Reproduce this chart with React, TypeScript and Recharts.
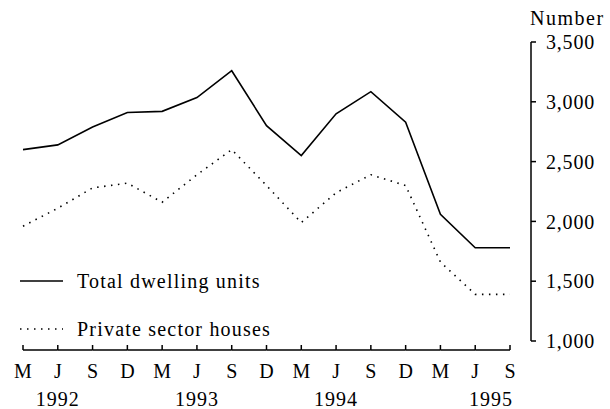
import { LineChart, Line, XAxis, YAxis, Legend } from "recharts";

const periods = [
  "Mar92", "Jun92", "Sep92", "Dec92",
  "Mar93", "Jun93", "Sep93", "Dec93",
  "Mar94", "Jun94", "Sep94", "Dec94",
  "Mar95", "Jun95", "Sep95",
];
const monthLabels = ["M", "J", "S", "D", "M", "J", "S", "D", "M", "J", "S", "D", "M", "J", "S"];
const yearLabels = ["", "1992", "", "", "", "1993", "", "", "", "1994", "", "", "", "", "1995"];

const seriesNames = ["Total dwelling units", "Private sector houses"];
const totalDwellings = [2600, 2640, 2790, 2910, 2920, 3035, 3260, 2800, 2550, 2900, 3085, 2830, 2060, 1780, 1780];
const privateHouses = [1960, 2110, 2280, 2320, 2160, 2390, 2600, 2300, 1990, 2240, 2390, 2300, 1660, 1390, 1390];

const yTicks = [1000, 1500, 2000, 2500, 3000, 3500];

const FONT = '"Liberation Serif", "Times New Roman", serif';
const W = 610;
const H = 409;
const LEFT = 23;
const TOP = 42;
const AXIS_X = 531;
const BOTTOM = 341;
const PAD_RIGHT = 21;
const STEP = (AXIS_X - PAD_RIGHT - LEFT) / (periods.length - 1);

const data = periods.map((p, i) => ({
  period: p,
  total: totalDwellings[i],
  private: privateHouses[i],
}));

function MonthTick(props: any) {
  const { x, y, payload } = props;
  const i = periods.indexOf(payload.value);
  const last = i === periods.length - 1;
  return (
    <g>
      <line x1={x} x2={x} y1={y} y2={y - 5} stroke="#000" strokeWidth={1.5} />
      {i > 0 && <line x1={x - STEP} x2={x} y1={y} y2={y} stroke="#000" strokeWidth={1.5} />}
      <text x={x} y={y + 28} textAnchor="middle" fontFamily={FONT} fontSize={20} fill="#000">
        {monthLabels[i]}
      </text>
      {yearLabels[i] && (
        <text
          x={last ? x + 3 : x}
          y={y + 56}
          textAnchor={last ? "end" : "middle"}
          fontFamily={FONT}
          fontSize={20}
          letterSpacing={1}
          fill="#000"
        >
          {yearLabels[i]}
        </text>
      )}
    </g>
  );
}

function LegendContent(props: any) {
  const { payload = [] } = props;
  const items = [...payload].sort(
    (a: any, b: any) => seriesNames.indexOf(a.value) - seriesNames.indexOf(b.value)
  );
  return (
    <div style={{ fontFamily: FONT, fontSize: 20, letterSpacing: 1.2, color: "#000" }}>
      {items.map((entry: any) => (
        <div key={entry.value} style={{ display: "flex", alignItems: "center", height: 48 }}>
          <svg width={57} height={10} style={{ display: "block", flex: "none" }}>
            <line
              x1={0}
              x2={43}
              y1={5}
              y2={5}
              stroke="#000"
              strokeWidth={1.6}
              strokeDasharray={entry.payload?.strokeDasharray}
            />
          </svg>
          <span style={{ whiteSpace: "nowrap" }}>{entry.value}</span>
        </div>
      ))}
    </div>
  );
}

export default function App() {
  return (
    <div style={{ position: "absolute", left: 0, top: 0, width: W, height: H, background: "#fff" }}>
      <div
        style={{
          position: "absolute",
          left: 530,
          top: 8,
          fontFamily: FONT,
          fontSize: 20,
          letterSpacing: 1.5,
          color: "#000",
          lineHeight: "20px",
        }}
      >
        Number
      </div>
      <LineChart width={W} height={H} data={data} margin={{ top: TOP, right: 0, left: LEFT, bottom: 0 }}>
        <XAxis
          dataKey="period"
          height={H - BOTTOM}
          padding={{ left: 0, right: PAD_RIGHT }}
          axisLine={false}
          tickLine={false}
          tickSize={0}
          tickMargin={9}
          interval={0}
          tick={<MonthTick />}
        />
        <YAxis
          orientation="right"
          width={W - AXIS_X}
          domain={[1000, 3500]}
          ticks={yTicks}
          interval={0}
          tickSize={5}
          tickMargin={10}
          axisLine={{ stroke: "#000", strokeWidth: 1.5 }}
          tickLine={{ stroke: "#000", strokeWidth: 1.5 }}
          tick={{ fill: "#000", fontSize: 20, fontFamily: FONT, letterSpacing: 0.8 }}
          tickFormatter={(v: number) => v.toLocaleString("en-US")}
        />
        <Legend
          layout="vertical"
          align="center"
          verticalAlign="middle"
          content={<LegendContent />}
          wrapperStyle={{ position: "absolute", left: 20, top: 257, width: 340 }}
        />
        <Line
          name={seriesNames[0]}
          dataKey="total"
          type="linear"
          stroke="#000"
          strokeWidth={1.6}
          dot={false}
          isAnimationActive={false}
        />
        <Line
          name={seriesNames[1]}
          dataKey="private"
          type="linear"
          stroke="#000"
          strokeWidth={1.6}
          strokeDasharray="1.5 5.5"
          dot={false}
          isAnimationActive={false}
        />
      </LineChart>
    </div>
  );
}
